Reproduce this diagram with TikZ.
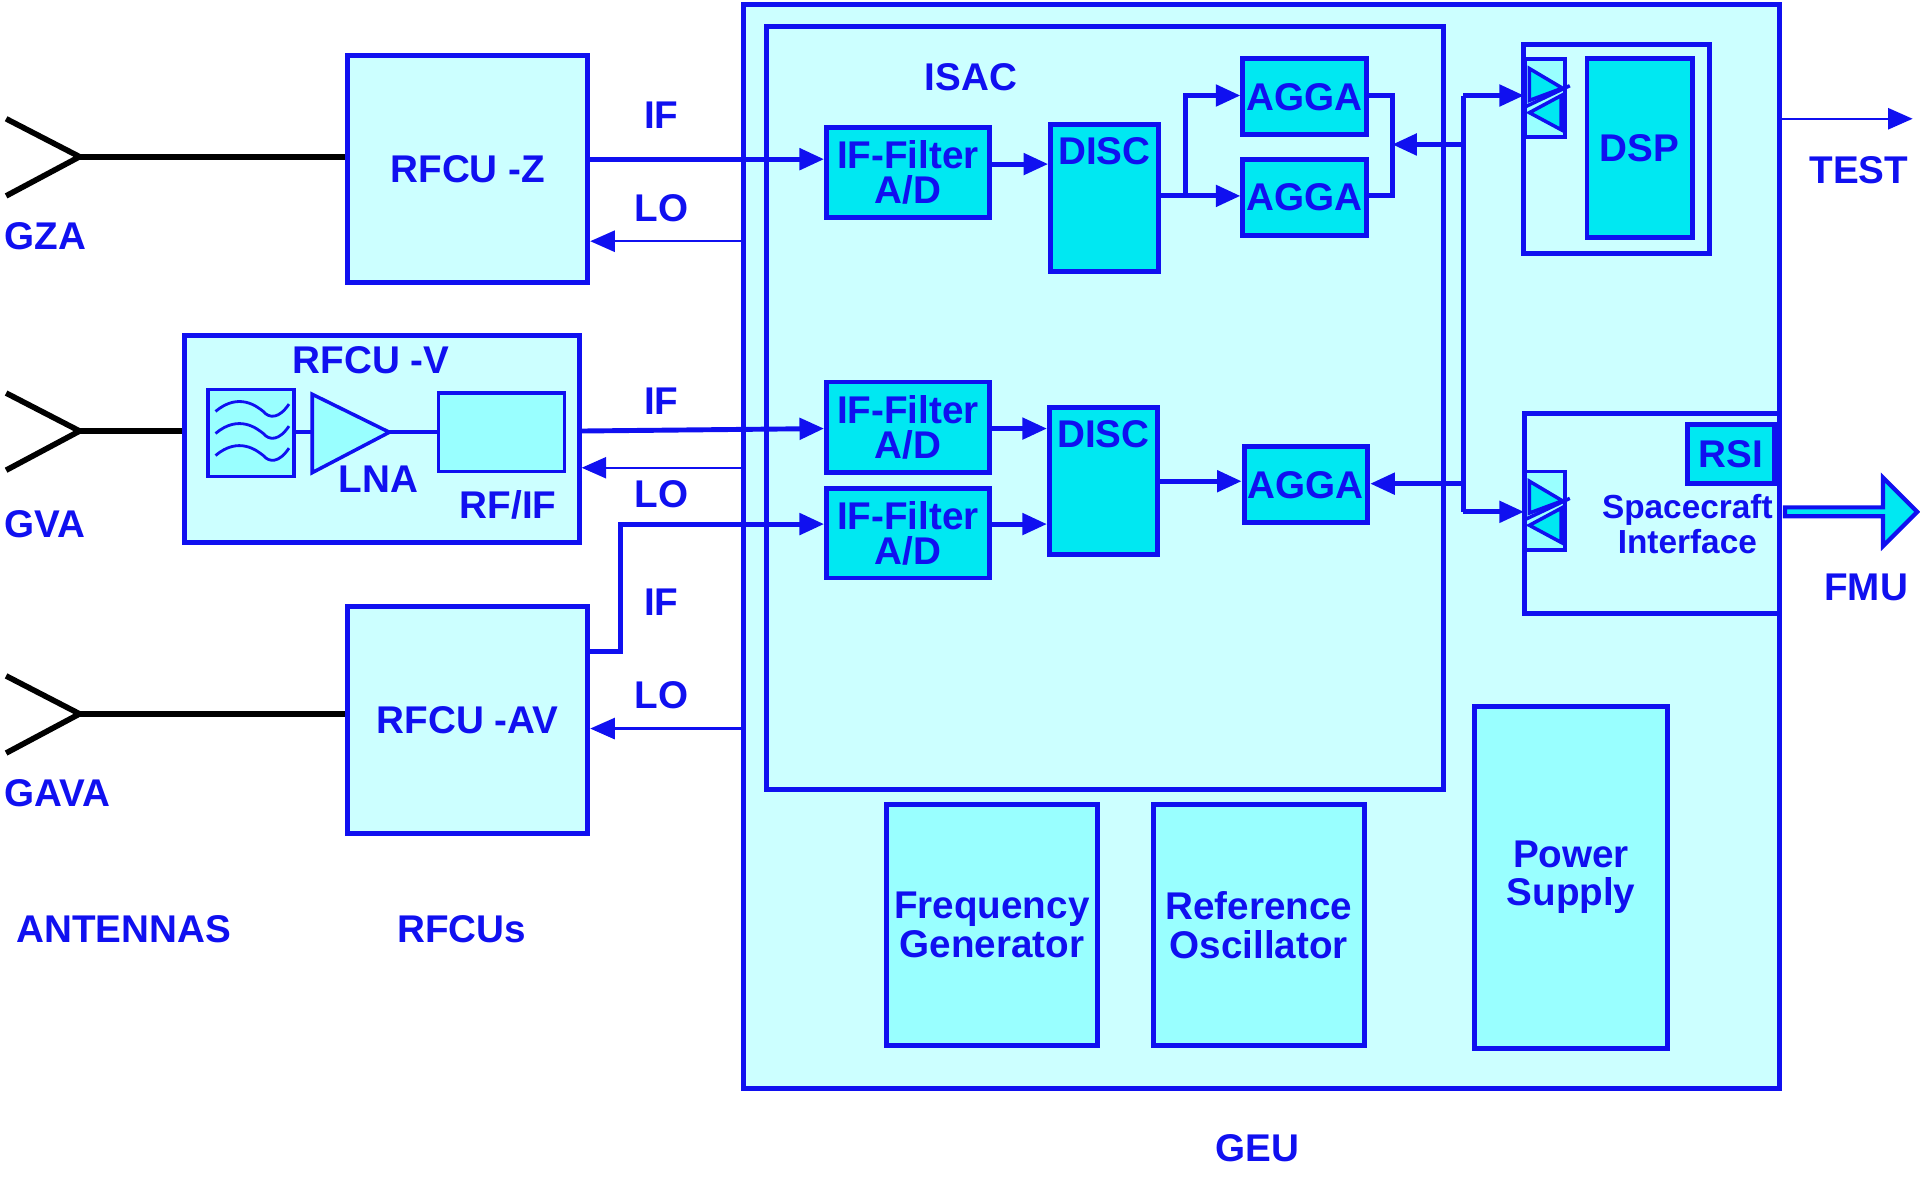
\documentclass[tikz,border=0pt]{standalone}
\usepackage{fontspec}
\setmainfont{Liberation Sans}
\usetikzlibrary{arrows.meta,shapes.arrows}
\definecolor{lineblue}{HTML}{1010F0}
\definecolor{pale}{HTML}{CCFFFF}
\definecolor{mid}{HTML}{99FFFF}
\definecolor{deep}{HTML}{00E8F2}
\tikzset{
  box/.style={draw=lineblue, line width=1.4pt, fill=pale, inner sep=1pt,
    text=lineblue, font=\bfseries\fontsize{11}{11}\selectfont, align=center},
  blk/.style={box, fill=deep, font=\bfseries\fontsize{11}{10}\selectfont},
  lbl/.style={text=lineblue, font=\bfseries\fontsize{11}{11}\selectfont},
  bus/.style={lineblue, line width=1.4pt, -{Triangle[length=7pt,width=6pt]}},
  thin/.style={lineblue, line width=0.7pt, -{Triangle[length=7pt,width=6pt]}},
  ant/.style={black, line width=1.6pt},
}
% block from corner (x1,y1) to (x2,y2)
\newcommand\blkat[7]{\node[#6, minimum width={(#4-#2)*0.01225cm},
  minimum height={(#5-#3)*0.01225cm}] (#1) at ({(#2+#4)/2},{(#3+#5)/2}) {#7};}
\newcommand\switchat[3]{% name, x, y (top left)
  \node[box, line width=1pt, fill=mid, minimum width={32*0.01225cm},
    minimum height={64*0.01225cm}] (#1) at (#2+16,#3+32) {};
  \fill[deep, draw=lineblue, line width=1pt] (#2+3,#3+8) -- (#2+30,#3+24) -- (#2+3,#3+34) -- cycle;
  \fill[deep, draw=lineblue, line width=1pt] (#2+29,#3+30) -- (#2+3,#3+44) -- (#2+29,#3+58) -- cycle;
  \draw[lineblue, line width=1pt] (#2-2,#3+40) -- (#2+36,#3+22);}
\begin{document}
\begin{tikzpicture}[x=0.01225cm, y=-0.01225cm]
  \useasboundingbox (0,0) rectangle (1568,964);

  % GEU and ISAC
  \blkat{geu}{607}{4}{1453}{889}{box}{}
  \blkat{isac}{626}{22}{1179}{645}{box}{}
  \node[lbl] (isaclbl) at (793,63) {ISAC};

  % RFCUs
  \blkat{rfz}{284}{45}{480}{231}{box}{RFCU -Z}
  \blkat{rfv}{151}{274}{473}{443}{box}{}
  \node[lbl] (rfvlbl) at (303,294) {RFCU -V};
  \blkat{filt}{170}{318}{240}{389}{box, line width=1pt, fill=mid}{}
  \foreach \yy in {336,354,372}
    \draw[lineblue, line width=0.8pt] (176,\yy) .. controls (195,\yy-16) and (210,\yy-4) .. (215,\yy)
      .. controls (220,\yy+6) and (228,\yy+6) .. (236,\yy-6);
  \draw[lineblue, line width=1pt, fill=mid] (255,322) -- (318,353) -- (255,386) -- cycle;
  \blkat{rfif}{358}{321}{461}{385}{box, line width=1pt, fill=mid}{}
  \draw[lineblue, line width=1pt] (240,353) -- (255,353) (318,353) -- (rfif.west);
  \node[lbl] (lna) at (309,391) {LNA};
  \node[lbl] (rfiflbl) at (415,412) {RF/IF};
  \blkat{rfav}{284}{495}{480}{681}{box}{RFCU -AV}

  % antennas
  \foreach \name/\yy in {gza/128, gva/352, gava/583}
    \coordinate (\name) at (65,\yy);
  \foreach \yy in {128,352,583}
    \draw[ant] (5,\yy-31) -- (65,\yy) -- (5,\yy+32);
  \draw[ant] (gza) -- (rfz.west|-gza);
  \draw[ant] (gva) -- (rfv.west|-gva);
  \draw[ant] (gava) -- (rfav.west|-gava);
  \node[lbl] at (37,193) {GZA};
  \node[lbl] at (37,428) {GVA};
  \node[lbl] at (47,648) {GAVA};
  \node[lbl] at (101,759) {ANTENNAS};
  \node[lbl] at (377,759) {RFCUs};
  \node[lbl] at (1027,938) {GEU};

  % ISAC blocks
  \blkat{iff1}{675}{104}{808}{178}{blk}{IF-Filter\\A/D}
  \blkat{iff2}{675}{312}{808}{386}{blk}{IF-Filter\\A/D}
  \blkat{iff3}{675}{399}{808}{472}{blk}{IF-Filter\\A/D}
  \blkat{disc1}{858}{102}{946}{222}{blk, label={[lbl, anchor=north, inner sep=4pt]north:DISC}}{}
  \blkat{disc2}{857}{333}{945}{453}{blk, label={[lbl, anchor=north, inner sep=4pt]north:DISC}}{}
  \blkat{agga1}{1015}{48}{1116}{110}{blk}{AGGA}
  \blkat{agga2}{1015}{130}{1116}{192}{blk}{AGGA}
  \blkat{agga3}{1016}{365}{1117}{427}{blk}{AGGA}

  % DSP and spacecraft interface
  \blkat{dspbox}{1244}{36}{1396}{207}{box}{}
  \blkat{dsp}{1296}{48}{1382}{194}{blk}{DSP}
  \switchat{sw1}{1246}{48}
  \blkat{scif}{1245}{338}{1453}{501}{box}{}
  \blkat{rsi}{1378}{347}{1449}{395}{blk}{RSI}
  \switchat{sw2}{1246}{385}
  \node[lbl, font=\bfseries\fontsize{9.5}{10}\selectfont, align=center] (sclbl) at (1378,428)
    {Spacecraft\\Interface};

  % GEU blocks
  \blkat{fgen}{724}{657}{896}{854}{box, fill=mid}{Frequency\\Generator}
  \blkat{rosc}{942}{657}{1114}{854}{box, fill=mid}{Reference\\Oscillator}
  \blkat{psu}{1204}{577}{1362}{856}{box, fill=mid}{Power\\Supply}

  % IF and LO lines
  \draw[bus] (rfz.east|-0,130) -- (iff1.west|-0,130);
  \draw[thin] (geu.west|-0,197) -- (rfz.east|-0,197);
  \draw[bus] (rfv.east|-0,352) -- (iff2.west|-0,350);
  \draw[thin] (geu.west|-0,382) -- (rfv.east|-0,382);
  \draw[bus] (rfav.east|-0,532) -- (507,532) -- (507,428) -- (iff3.west|-0,428);
  \draw[thin] (geu.west|-0,595) -- (rfav.east|-0,595);
  \node[lbl] at (540,94) {IF};
  \node[lbl] at (540,170) {LO};
  \node[lbl] at (540,328) {IF};
  \node[lbl] at (540,404) {LO};
  \node[lbl] at (540,492) {IF};
  \node[lbl] at (540,568) {LO};

  % ISAC internal
  \draw[bus] (iff1.east|-0,134) -- (disc1.west|-0,134);
  \draw[bus] (iff2.east|-0,350) -- (disc2.west|-0,350);
  \draw[bus] (iff3.east|-0,428) -- (disc2.west|-0,428);
  \draw[bus] (disc1.east|-0,160) -- (968,160) -- (968,78) -- (agga1.west|-0,78);
  \draw[bus] (968,160) -- (agga2.west|-0,160);
  \draw[bus] (disc2.east|-0,393) -- (agga3.west|-0,393);
  \draw[lineblue, line width=1.4pt] (agga1.east|-0,78) -- (1137,78) -- (1137,160) -- (agga2.east|-0,160);
  \draw[bus] (1195,118) -- (1137,118);
  \draw[lineblue, line width=1.4pt] (1195,78) -- (1195,418);
  \draw[bus] (1195,78) -- (sw1.west|-0,78);
  \draw[bus] (1195,418) -- (sw2.west|-0,418);
  \draw[bus] (1195,395) -- (agga3.east|-0,395);

  % outputs
  \coordinate (test) at (1562,97);
  \draw[thin] (geu.east|-test) -- (test);
  \node[lbl] at (1518,139) {TEST};
  \node[single arrow, draw=lineblue, line width=1.2pt, fill=deep, minimum height={108*0.01225cm},
    minimum width={56*0.01225cm}, single arrow head extend=4pt, inner sep=0pt,
    anchor=tail] (fmu) at (1456,418) {};
  \node[lbl] at (1524,480) {FMU};
\end{tikzpicture}
\end{document}
